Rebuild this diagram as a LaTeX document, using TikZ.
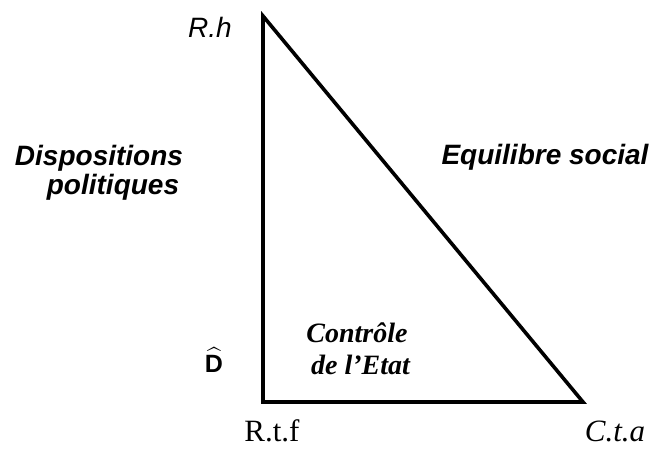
\documentclass[tikz,border=0pt]{standalone}
\usepackage{fontspec}
\usepackage{amsmath}
\setmainfont{Liberation Serif}
\setsansfont{Liberation Sans}
\usetikzlibrary{positioning}

\begin{document}
\begin{tikzpicture}[
    x=1pt, y=-1pt,
    side/.style={line width=3.6pt, line join=miter},
    sanslabel/.style={inner sep=0pt, font=\sffamily\fontsize{28}{31}\selectfont},
    theme/.style={sanslabel, font=\sffamily\bfseries\itshape\fontsize{28}{31}\selectfont, align=left},
    corner/.style={inner sep=0pt, font=\fontsize{31}{33}\selectfont}
]
\useasboundingbox (0,0) rectangle (650,450);

% vertices of the triangle
\coordinate (top) at (263,16);
\coordinate (rtf) at (263,402);
\coordinate (cta) at (583,402);

\draw[side] (top) -- (rtf) -- (cta) -- cycle;

% vertex labels
\node[sanslabel, font=\sffamily\itshape\fontsize{28}{31}\selectfont] (rh) at (210,27) {R.h};
\node[corner] (rtflab) at (272,431) {R.t.f};
\node[corner, font=\itshape\fontsize{31}{33}\selectfont] (ctalab) at (615,431) {C.t.a};

% side labels
\node[theme] (dispo) at (99,158) {Dispositions};
\node[theme] (poli) at (113,187) {politiques};
\node[theme] (equi) at (545,157) {Equilibre social};

% angle and inner label
\node[inner sep=0pt, font=\sffamily\bfseries\fontsize{25}{28}\selectfont] (angle) at (214,360) {$\widehat{\text{D}}$};
\node[inner sep=0pt, align=center, font=\bfseries\itshape\fontsize{28}{32}\selectfont] (ctrl) at (357,349) {Contrôle\\\ de l’Etat};

\end{tikzpicture}
\end{document}
